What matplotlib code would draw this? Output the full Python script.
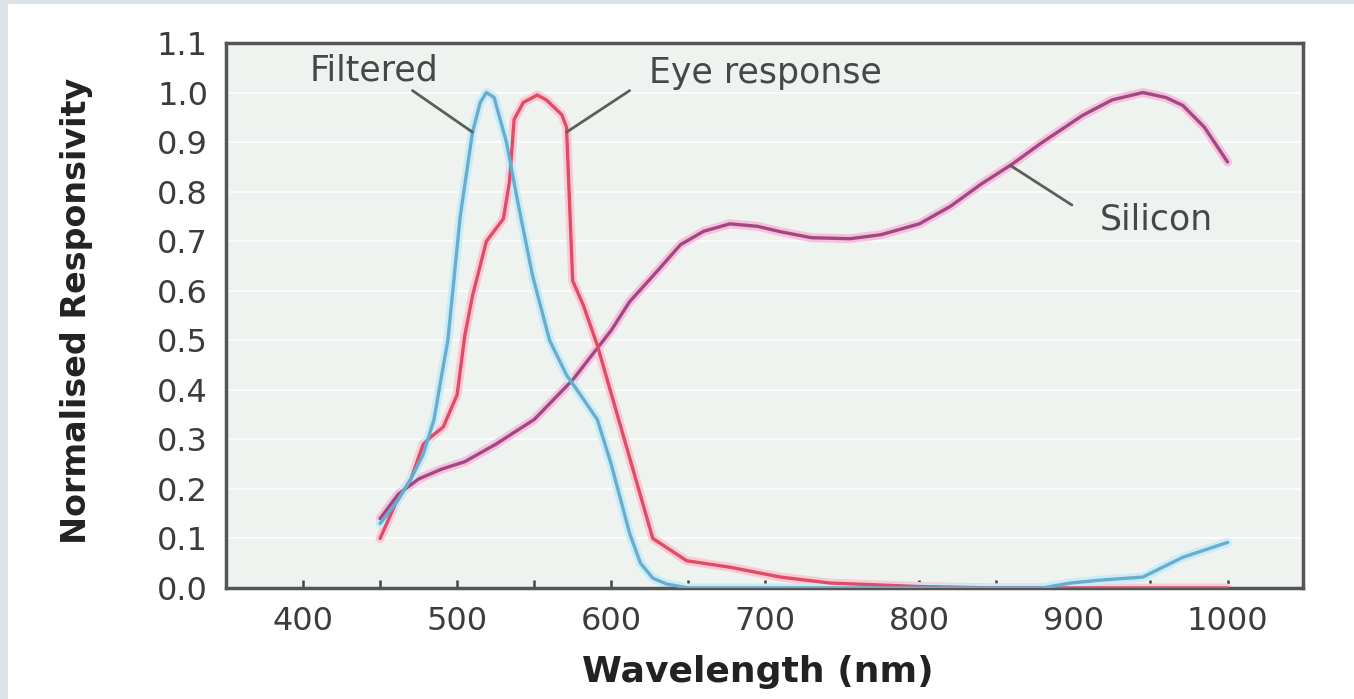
import matplotlib.pyplot as plt
from matplotlib.patches import Rectangle
from matplotlib.ticker import MultipleLocator

# wavelength (nm) / normalised responsivity
filt_wl = [450, 460, 470, 478, 485, 490, 494, 502, 510, 515, 519, 524, 532, 539, 549,
           560, 571, 580, 591, 600, 606, 612, 619, 627, 636, 650, 700, 800, 880,
           898, 918, 945, 971, 1000]
filt_r = [0.13, 0.17, 0.22, 0.27, 0.34, 0.43, 0.50, 0.75, 0.92, 0.98, 1.0, 0.99, 0.90,
          0.785, 0.63, 0.50, 0.43, 0.39, 0.34, 0.25, 0.18, 0.11, 0.05, 0.02, 0.008,
          0.0, 0.0, 0.0, 0.0, 0.01, 0.016, 0.022, 0.062, 0.092]

eye_wl = [450, 460, 470, 478, 483, 491, 500, 505, 510, 519, 530, 534, 537, 543, 552,
          558, 568, 571, 575, 582, 591, 627, 649, 677, 710, 742, 800, 850, 1000]
eye_r = [0.10, 0.17, 0.22, 0.29, 0.305, 0.325, 0.39, 0.51, 0.59, 0.70, 0.745, 0.82,
         0.946, 0.98, 0.995, 0.985, 0.955, 0.93, 0.62, 0.57, 0.49, 0.10, 0.055,
         0.042, 0.022, 0.01, 0.003, 0.0, 0.0]

si_wl = [450, 462, 475, 490, 505, 525, 550, 575, 600, 612, 630, 645, 660, 677, 695,
         710, 730, 755, 775, 800, 820, 840, 860, 880, 906, 925, 945, 960, 971, 985, 1000]
si_r = [0.14, 0.19, 0.22, 0.24, 0.255, 0.29, 0.34, 0.42, 0.52, 0.578, 0.64, 0.693,
        0.72, 0.735, 0.73, 0.719, 0.707, 0.705, 0.713, 0.735, 0.77, 0.815, 0.855,
        0.90, 0.954, 0.985, 1.0, 0.99, 0.974, 0.93, 0.86]

# label text, text centre, leader line start, leader line end (data coords)
labels = [
    ("Filtered", (446, 1.044), (471, 1.004), (510, 0.92)),
    ("Eye response", (700, 1.040), (612, 1.004), (571, 0.92)),
    ("Silicon", (954, 0.743), (899, 0.773), (859, 0.853)),
]

fig = plt.figure(figsize=(13.54, 6.99), dpi=100, facecolor="#dde4e9")
# white page inside a thin grey border
fig.patches.append(Rectangle((8 / 1354, 0), 1, 1 - 4 / 699, transform=fig.transFigure,
                             facecolor="white", edgecolor="none", zorder=-10))
ax = fig.add_axes([226 / 1354, 1 - 588 / 699, (1303 - 226) / 1354, (588 - 43) / 699])
ax.set_facecolor("#eef3f0")

ax.set_xlim(350, 1049)
ax.set_ylim(0, 1.1)
for yy in [i / 10 for i in range(1, 11)]:
    ax.axhline(yy, color="white", lw=1.3, alpha=0.8, zorder=0)

# soft halo under each line, like the blurred original
for wl, r, core, halo in [(si_wl, si_r, "#a24880", "#f4c2de"),
                          (eye_wl, eye_r, "#e04c66", "#f9cbd5"),
                          (filt_wl, filt_r, "#6aaccb", "#c8ecf8")]:
    ax.plot(wl, r, color=halo, lw=6.5, solid_capstyle="round", zorder=2)
    ax.plot(wl, r, color=core, lw=2.4, solid_capstyle="round", zorder=3)

for txt, pos, start, end in labels:
    ax.text(pos[0], pos[1], txt, ha="center", va="center", fontsize=25,
            color="#474747", family="DejaVu Sans", zorder=5)
    ax.annotate("", xy=end, xytext=start,
                arrowprops=dict(arrowstyle="-", color="#5a5f5c", lw=2,
                                shrinkA=0, shrinkB=0), zorder=4)

for sp in ax.spines.values():
    sp.set_color("#555555")
    sp.set_linewidth(2.5)

ax.xaxis.set_major_locator(MultipleLocator(100))
ax.xaxis.set_minor_locator(MultipleLocator(50))
ax.set_yticks([i / 10 for i in range(0, 12)])
ax.set_yticklabels([f"{i / 10:.1f}" for i in range(0, 12)])
ax.tick_params(axis="x", which="both", direction="in", length=6, width=1.8,
               color="#444444", labelsize=23, labelcolor="#3c3c3c", pad=13)
ax.tick_params(axis="y", length=0, labelsize=23, labelcolor="#3c3c3c", pad=13)
for lab in ax.get_xticklabels() + ax.get_yticklabels():
    lab.set_family("DejaVu Sans")

ax.set_xlabel("Wavelength (nm)", fontsize=26, fontweight="bold", color="#222222")
ax.set_ylabel("Normalised Responsivity", fontsize=24, fontweight="bold",
              color="#222222")
ax.xaxis.set_label_coords(0.494, -0.123)
ax.yaxis.set_label_coords(-0.1235, 0.508)

fig.savefig("out.png", dpi=100, facecolor=fig.get_facecolor())
